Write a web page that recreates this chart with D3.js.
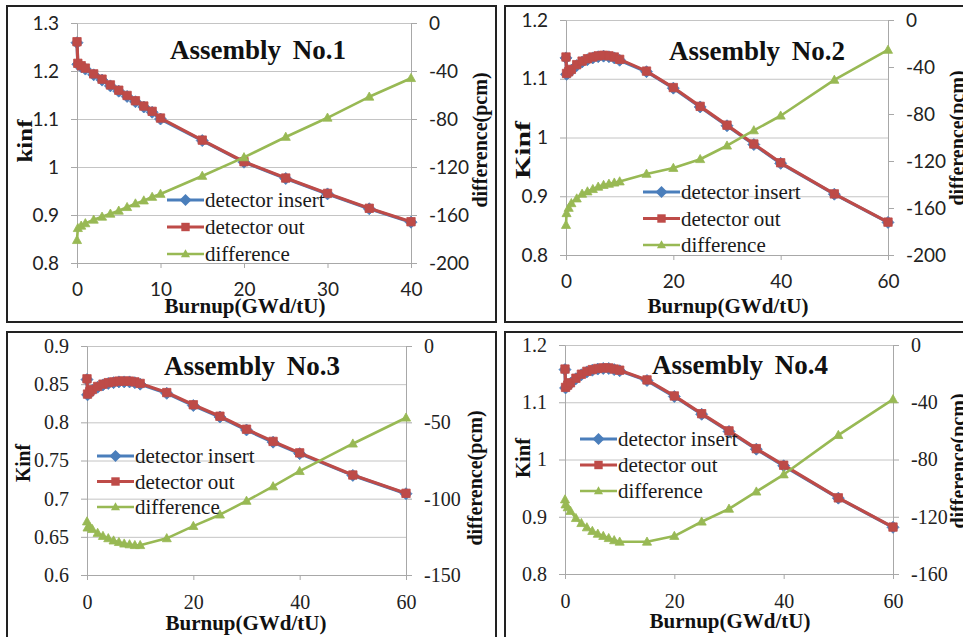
<!DOCTYPE html>
<html>
<head>
<meta charset="utf-8">
<script src="https://cdn.jsdelivr.net/npm/d3@7"></script>
<style>
  body { margin: 0; background: #fff; }
  svg { display: block; }
</style>
</head>
<body>
<div id="chart"></div>
<script>
// burnup steps (GWd/tU)
const burnup40 = [0, 0.1, 0.5, 1, 2, 3, 4, 5, 6, 7, 8, 9, 10, 15, 20, 25, 30, 35, 40];
const burnup60 = [0, 0.1, 0.5, 1, 2, 3, 4, 5, 6, 7, 8, 9, 10, 15, 20, 25, 30, 35, 40, 50, 60];

// Assembly No.1
const insert1 = [1.259, 1.214, 1.209, 1.204, 1.192, 1.181, 1.169, 1.158, 1.147, 1.136, 1.125, 1.114, 1.100, 1.055, 1.010, 0.976, 0.944, 0.913, 0.885];
const out1 = [1.261, 1.216, 1.211, 1.206, 1.194, 1.183, 1.171, 1.160, 1.149, 1.138, 1.127, 1.116, 1.102, 1.056, 1.011, 0.977, 0.945, 0.914, 0.886];
const diff1 = [-181, -171, -169, -167, -164, -161.5, -159, -156.5, -153.5, -150.5, -148, -145, -142.5, -127.5, -112, -95, -79, -61.5, -46];

// Assembly No.2
const insert2 = [1.1355, 1.1075, 1.1105, 1.1145, 1.1225, 1.1285, 1.1325, 1.1355, 1.1375, 1.1385, 1.1375, 1.1355, 1.1315, 1.112, 1.084, 1.052, 1.020, 0.988, 0.956, 0.9035, 0.8555];
const out2 = [1.137, 1.109, 1.112, 1.116, 1.124, 1.130, 1.134, 1.137, 1.139, 1.140, 1.139, 1.137, 1.133, 1.113, 1.085, 1.053, 1.021, 0.989, 0.957, 0.904, 0.856];
const diff2 = [-174.5, -164.5, -160, -156, -152, -148, -146, -144, -142, -140.5, -139.5, -138.5, -137.5, -131, -126, -118.5, -107, -94, -81.5, -51, -25.5];

// Assembly No.3
const insert3 = [0.856, 0.836, 0.839, 0.842, 0.846, 0.849, 0.851, 0.852, 0.853, 0.853, 0.853, 0.852, 0.850, 0.838, 0.822, 0.807, 0.790, 0.774, 0.759, 0.7305, 0.7065];
const out3 = [0.857, 0.837, 0.840, 0.843, 0.847, 0.850, 0.852, 0.853, 0.854, 0.854, 0.854, 0.853, 0.851, 0.839, 0.823, 0.808, 0.791, 0.775, 0.760, 0.731, 0.707];
const diff3 = [-115, -119, -118.5, -120, -122.5, -124.5, -126, -127.5, -128.5, -129.5, -130, -130.5, -130.5, -126, -118, -110.5, -101.5, -92, -82, -64, -47];

// Assembly No.4
const insert4 = [1.157, 1.125, 1.129, 1.133, 1.141, 1.148, 1.153, 1.156, 1.158, 1.159, 1.159, 1.157, 1.155, 1.138, 1.110, 1.079, 1.049, 1.018, 0.989, 0.9325, 0.8815];
const out4 = [1.158, 1.126, 1.130, 1.134, 1.142, 1.149, 1.154, 1.157, 1.159, 1.160, 1.160, 1.158, 1.156, 1.139, 1.111, 1.080, 1.050, 1.019, 0.990, 0.933, 0.882];
const diff4 = [-108, -111.5, -113.5, -116, -121, -124.5, -127.5, -130, -132, -133.5, -135, -136.5, -137.5, -137.5, -133.5, -123.5, -114.5, -102.5, -90.5, -63, -38];

// tick values
const xTicks40 = [0, 10, 20, 30, 40];
const xTicks60 = [0, 20, 40, 60];
const kTicks1 = [0.8, 0.9, 1.0, 1.1, 1.2, 1.3];
const kTicks24 = [0.8, 0.9, 1.0, 1.1, 1.2];
const kTicks3 = [0.6, 0.65, 0.7, 0.75, 0.8, 0.85, 0.9];
const dTicks12 = [-200, -160, -120, -80, -40, 0];
const dTicks3 = [-150, -100, -50, 0];
const dTicks4 = [-160, -120, -80, -40, 0];

const seriesNames = ["detector insert", "detector out", "difference"];
const titles = ["Assembly No.1", "Assembly No.2", "Assembly No.3", "Assembly No.4"];

const BLUE = "#4a7ebb", RED = "#be4b48", GREEN = "#98b954";
const SANS = "Lato";
const SERIF = "Liberation Serif";

const panels = [
    { title: titles[0], burnup: burnup40, insert: insert1, out: out1, diff: diff1,
      xTicks: xTicks40, kTicks: kTicks1, dTicks: dTicks12, kName: "kinf",
      box: [7, 6, 489, 316], left: 77, right: 411, top: 23, bottom: 263,
      tickFont: SANS, tickSize: 19, titlePos: [258, 59], legend: [167, 200, 27],
      xTitle: [245, 313], kLabel: [24, 141, 43], dLabel: [480, 140] },
    { title: titles[1], burnup: burnup60, insert: insert2, out: out2, diff: diff2,
      xTicks: xTicks60, kTicks: kTicks24, dTicks: dTicks12, kName: "Kinf",
      box: [505, 6, 480, 316], left: 566, right: 888, top: 20, bottom: 255,
      tickFont: SANS, tickSize: 19, titlePos: [757, 60], legend: [643, 192, 26.5],
      xTitle: [728, 313], kLabel: [522, 150, 58], dLabel: [957, 138] },
    { title: titles[2], burnup: burnup60, insert: insert3, out: out3, diff: diff3,
      xTicks: xTicks60, kTicks: kTicks3, dTicks: dTicks3, kName: "Kinf",
      box: [7, 332, 489, 320], left: 87, right: 406, top: 346, bottom: 575,
      tickFont: SERIF, tickSize: 20, titlePos: [252, 375], legend: [97, 456, 25.5],
      xTitle: [246, 630], kLabel: [22, 463, 38], dLabel: [475, 478] },
    { title: titles[3], burnup: burnup60, insert: insert4, out: out4, diff: diff4,
      xTicks: xTicks60, kTicks: kTicks24, dTicks: dTicks4, kName: "Kinf",
      box: [505, 332, 480, 320], left: 565, right: 893, top: 345, bottom: 574,
      tickFont: SERIF, tickSize: 20, titlePos: [740, 374], legend: [580, 439, 26],
      xTitle: [730, 628], kLabel: [522, 458, 40], dLabel: [958, 461] }
];

const svg = d3.select("#chart").append("svg")
    .attr("width", 963)
    .attr("height", 637);

// marker shapes (Excel style)
function diamond(r) { return `M0,${-r}L${r},0L0,${r}L${-r},0Z`; }
function square(r) { return `M${-r},${-r}H${r}V${r}H${-r}Z`; }
function triangle(r) { return `M0,${-r}L${r * 0.95},${r * 0.7}L${-r * 0.95},${r * 0.7}Z`; }

const styles = [
    { color: BLUE, width: 3.2, shape: diamond(6) },
    { color: RED, width: 3.2, shape: square(4.2) },
    { color: GREEN, width: 2.6, shape: triangle(4.8) }
];

panels.forEach(drawPanel);

function drawPanel(p) {
    const g = svg.append("g");

    const x = d3.scaleLinear().domain([p.xTicks[0], p.xTicks[p.xTicks.length - 1]]).range([p.left, p.right]);
    const yk = d3.scaleLinear().domain([p.kTicks[0], p.kTicks[p.kTicks.length - 1]]).range([p.bottom, p.top]);
    const yd = d3.scaleLinear().domain([p.dTicks[0], p.dTicks[p.dTicks.length - 1]]).range([p.bottom, p.top]);

    // gridlines
    g.append("g")
        .attr("transform", "translate(" + p.left + ",0)")
        .call(d3.axisLeft(yk).tickValues(p.kTicks).tickSize(-(p.right - p.left)).tickFormat(""))
        .call(a => a.select(".domain").remove())
        .call(a => a.selectAll("line").attr("stroke", "#c4c4c4"));

    // left axis
    g.append("g")
        .attr("transform", "translate(" + p.left + ",0)")
        .call(d3.axisLeft(yk).tickValues(p.kTicks).tickSize(6).tickSizeOuter(0).tickPadding(12)
            .tickFormat(d => String(+d.toFixed(2))))
        .call(a => styleAxis(a, p));

    // right axis
    g.append("g")
        .attr("transform", "translate(" + p.right + ",0)")
        .call(d3.axisRight(yd).tickValues(p.dTicks).tickSize(6).tickSizeOuter(0).tickPadding(12)
            .tickFormat(d => String(d)))
        .call(a => styleAxis(a, p));

    // bottom axis
    g.append("g")
        .attr("transform", "translate(0," + p.bottom + ")")
        .call(d3.axisBottom(x).tickValues(p.xTicks).tickSize(5).tickSizeOuter(0).tickPadding(15)
            .tickFormat(d => String(d)))
        .call(a => styleAxis(a, p));

    // series
    const sets = [
        { vals: p.insert, y: yk },
        { vals: p.out, y: yk },
        { vals: p.diff, y: yd }
    ];
    sets.forEach((s, i) => {
        const st = styles[i];
        const pts = d3.zip(p.burnup, s.vals);
        const line = d3.line().x(d => x(d[0])).y(d => s.y(d[1]));
        g.append("path")
            .datum(pts)
            .attr("d", line)
            .attr("fill", "none")
            .attr("stroke", st.color)
            .attr("stroke-width", st.width)
            .attr("stroke-linejoin", "round");
        g.selectAll(".m" + i)
            .data(pts)
            .enter().append("path")
            .attr("class", "m" + i)
            .attr("d", st.shape)
            .attr("transform", d => "translate(" + x(d[0]) + "," + s.y(d[1]) + ")")
            .attr("fill", st.color)
            .attr("stroke", st.color)
            .attr("stroke-width", 0.8);
    });

    // legend
    const [lx, ly, step] = p.legend;
    seriesNames.forEach((name, i) => {
        const st = styles[i];
        const yy = ly + i * step;
        g.append("line")
            .attr("x1", lx).attr("x2", lx + 37)
            .attr("y1", yy).attr("y2", yy)
            .attr("stroke", st.color).attr("stroke-width", st.width);
        g.append("path")
            .attr("d", st.shape)
            .attr("transform", "translate(" + (lx + 18.5) + "," + yy + ")")
            .attr("fill", st.color);
        g.append("text")
            .attr("x", lx + 38).attr("y", yy + 7)
            .attr("font-family", SERIF).attr("font-size", 21)
            .attr("fill", "#1a1a1a")
            .text(name);
    });

    // title
    g.append("text")
        .attr("x", p.titlePos[0]).attr("y", p.titlePos[1])
        .attr("text-anchor", "middle")
        .attr("font-family", SERIF).attr("font-weight", "bold").attr("font-size", 27)
        .style("word-spacing", "5px")
        .attr("fill", "#111")
        .text(p.title);

    // axis titles
    g.append("text")
        .attr("x", p.xTitle[0]).attr("y", p.xTitle[1])
        .attr("text-anchor", "middle")
        .attr("font-family", SERIF).attr("font-weight", "bold").attr("font-size", 21)
        .attr("fill", "#111")
        .text("Burnup(GWd/tU)");

    g.append("text")
        .attr("transform", "translate(" + p.kLabel[0] + "," + p.kLabel[1] + ") rotate(-90)")
        .attr("text-anchor", "middle").attr("dy", "0.35em")
        .attr("font-family", SERIF).attr("font-weight", "bold").attr("font-size", 22)
        .attr("textLength", p.kLabel[2]).attr("lengthAdjust", "spacingAndGlyphs")
        .attr("fill", "#111")
        .text(p.kName);

    g.append("text")
        .attr("transform", "translate(" + p.dLabel[0] + "," + p.dLabel[1] + ") rotate(-90)")
        .attr("text-anchor", "middle").attr("dy", "0.35em")
        .attr("font-family", SERIF).attr("font-weight", "bold").attr("font-size", 20)
        .attr("fill", "#111")
        .text("difference(pcm)");

    // panel frame
    g.append("rect")
        .attr("x", p.box[0]).attr("y", p.box[1])
        .attr("width", p.box[2]).attr("height", p.box[3])
        .attr("fill", "none")
        .attr("stroke", "#222")
        .attr("stroke-width", 2);
}

function styleAxis(a, p) {
    a.attr("font-family", p.tickFont).attr("font-size", p.tickSize);
    a.select(".domain").attr("stroke", "#a8a8a8");
    a.selectAll(".tick line").attr("stroke", "#a8a8a8");
    a.selectAll("text").attr("fill", "#222");
}
</script>
</body>
</html>
